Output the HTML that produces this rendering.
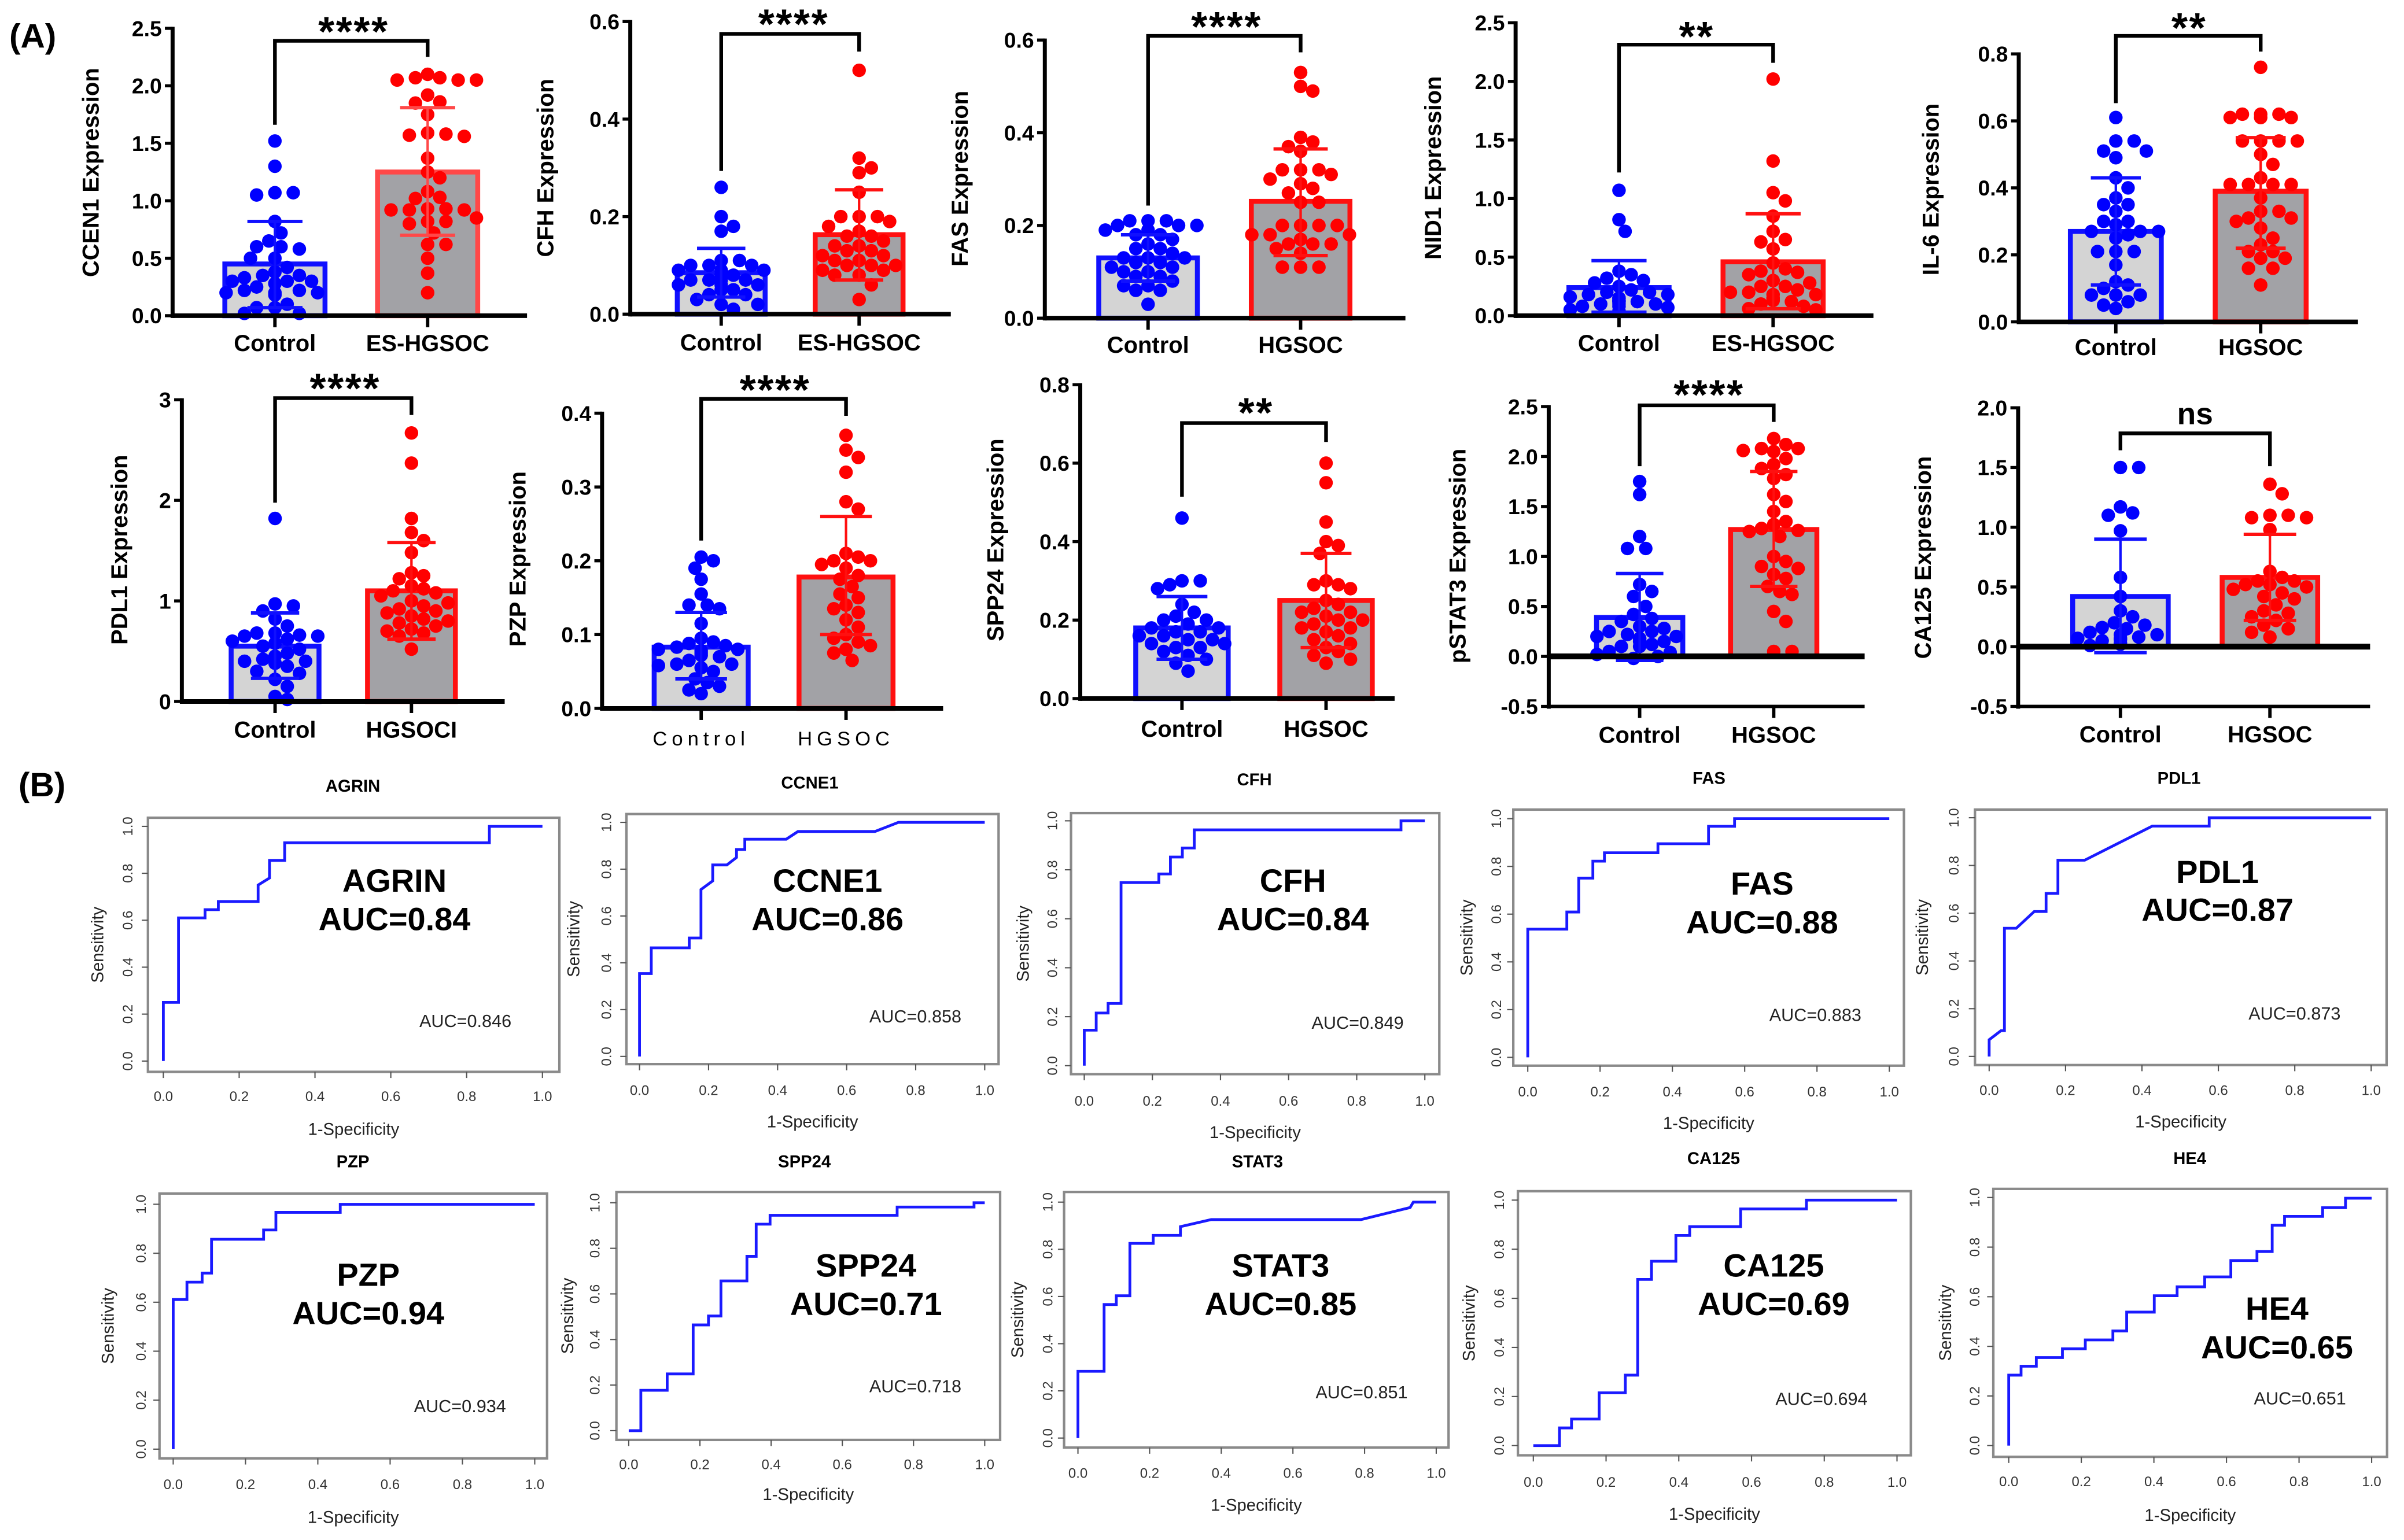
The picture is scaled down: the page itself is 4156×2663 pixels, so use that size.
<!DOCTYPE html>
<html><head><meta charset="utf-8"><style>
html,body{margin:0;padding:0;background:#fff;}
svg{display:block;}
text{font-family:"Liberation Sans",Arial,sans-serif;}
</style></head><body>
<svg id="fig" xmlns="http://www.w3.org/2000/svg" width="4156" height="2663" viewBox="0 0 1560 1000" preserveAspectRatio="none">
<text x="6" y="31" font-size="22" font-weight="bold">(A)</text>
<text x="12" y="517" font-size="22" font-weight="bold">(B)</text>
</svg>
<script>
// ---------- Panel A data ----------
const ccen1Ctl=[1.52,1.3,1.07,1.07,1.05,0.82,0.72,0.65,0.6,0.6,0.58,0.5,0.5,0.42,0.38,0.35,0.35,0.33,0.3,0.3,0.28,0.28,0.22,0.22,0.2,0.2,0.2,0.18,0.1,0.07,0.07,0.02,0.02,0.25,0.3];
const ccen1Case=[2.1,2.07,2.05,2.05,2.05,2.07,1.92,1.85,1.86,1.75,1.59,1.57,1.56,1.58,1.37,1.25,1.2,1.08,1.03,1.02,0.92,0.92,0.92,0.93,0.93,0.85,0.82,0.82,0.8,0.72,0.62,0.62,0.5,0.37,0.2];
const ccen1Means=[0.45,1.25];
const ccen1Err=[[0.07,0.82],[0.7,1.81]];
const ccen1Ticks=['0.0','0.5','1.0','1.5','2.0','2.5'];
const cfhCtl=[0.26,0.2,0.18,0.17,0.11,0.11,0.1,0.1,0.1,0.09,0.09,0.09,0.08,0.08,0.08,0.08,0.07,0.07,0.07,0.07,0.06,0.06,0.06,0.05,0.05,0.04,0.04,0.03,0.02,0.01,0.02];
const cfhCase=[0.5,0.32,0.3,0.29,0.25,0.2,0.2,0.2,0.19,0.18,0.17,0.16,0.16,0.15,0.14,0.14,0.13,0.13,0.12,0.12,0.11,0.11,0.1,0.1,0.1,0.09,0.09,0.08,0.08,0.06,0.03];
const cfhMeans=[0.085,0.163];
const cfhErr=[[0.035,0.135],[0.07,0.255]];
const cfhTicks=['0.0','0.2','0.4','0.6'];
const fasCtl=[0.21,0.21,0.21,0.2,0.2,0.2,0.19,0.19,0.18,0.18,0.17,0.16,0.15,0.15,0.14,0.13,0.13,0.13,0.12,0.12,0.11,0.11,0.1,0.1,0.09,0.09,0.08,0.07,0.07,0.06,0.06,0.03];
const fasCase=[0.53,0.5,0.49,0.39,0.38,0.37,0.36,0.32,0.32,0.32,0.31,0.3,0.29,0.28,0.27,0.25,0.25,0.2,0.2,0.2,0.2,0.18,0.18,0.18,0.17,0.16,0.16,0.16,0.15,0.14,0.11,0.11,0.11];
const fasMeans=[0.13,0.252];
const fasErr=[[0.08,0.18],[0.135,0.365]];
const fasTicks=['0.0','0.2','0.4','0.6'];
const nid1Ctl=[1.07,0.82,0.72,0.38,0.35,0.32,0.3,0.28,0.25,0.22,0.2,0.2,0.18,0.18,0.16,0.15,0.15,0.13,0.13,0.12,0.12,0.1,0.1,0.1,0.08,0.08,0.07,0.05,0.04,0.12,0.15];
const nid1Case=[2.02,1.32,1.05,0.98,0.85,0.72,0.65,0.63,0.57,0.45,0.4,0.38,0.37,0.35,0.3,0.28,0.25,0.25,0.22,0.2,0.2,0.18,0.18,0.15,0.15,0.13,0.12,0.1,0.08,0.06,0.05];
const nid1Means=[0.24,0.46];
const nid1Err=[[0.03,0.47],[0.06,0.87]];
const nid1Ticks=['0.0','0.5','1.0','1.5','2.0','2.5'];
const il6Ctl=[0.61,0.54,0.54,0.51,0.51,0.49,0.43,0.4,0.37,0.35,0.35,0.33,0.3,0.3,0.29,0.27,0.27,0.27,0.26,0.25,0.21,0.21,0.21,0.17,0.12,0.11,0.1,0.08,0.08,0.08,0.06,0.05,0.04];
const il6Case=[0.76,0.62,0.62,0.61,0.61,0.61,0.62,0.54,0.54,0.54,0.54,0.5,0.47,0.43,0.41,0.41,0.41,0.41,0.37,0.33,0.33,0.31,0.31,0.3,0.28,0.25,0.23,0.21,0.21,0.19,0.19,0.16,0.16,0.11];
const il6Means=[0.27,0.39];
const il6Err=[[0.11,0.43],[0.22,0.55]];
const il6Ticks=['0.0','0.2','0.4','0.6','0.8'];
const pdl1Ctl=[1.82,0.97,0.95,0.9,0.82,0.75,0.68,0.68,0.66,0.65,0.65,0.62,0.6,0.58,0.55,0.52,0.48,0.45,0.42,0.4,0.4,0.38,0.35,0.3,0.28,0.22,0.15,0.05,0.02];
const pdl1Case=[2.67,2.37,1.82,1.68,1.6,1.48,1.28,1.25,1.22,1.15,1.12,1.1,1.08,1.05,1.0,0.98,0.95,0.92,0.88,0.85,0.82,0.8,0.78,0.75,0.7,0.68,0.65,0.52,0.72,0.9];
const pdl1Means=[0.55,1.1];
const pdl1Err=[[0.23,0.88],[0.62,1.58]];
const pdl1Ticks=['0','1','2','3'];
const pzpCtl=[0.205,0.2,0.19,0.175,0.155,0.14,0.14,0.135,0.115,0.095,0.09,0.088,0.085,0.083,0.08,0.08,0.078,0.075,0.072,0.07,0.065,0.06,0.06,0.058,0.055,0.05,0.04,0.035,0.03,0.025,0.02];
const pzpCase=[0.37,0.35,0.34,0.32,0.28,0.27,0.21,0.205,0.2,0.2,0.195,0.19,0.18,0.175,0.165,0.155,0.15,0.14,0.135,0.13,0.12,0.11,0.1,0.095,0.09,0.085,0.08,0.075,0.065];
const pzpMeans=[0.083,0.178];
const pzpErr=[[0.04,0.13],[0.1,0.26]];
const pzpTicks=['0.0','0.1','0.2','0.3','0.4'];
const spp24Ctl=[0.46,0.3,0.3,0.29,0.28,0.24,0.22,0.21,0.2,0.2,0.19,0.18,0.17,0.16,0.16,0.15,0.15,0.14,0.14,0.13,0.13,0.12,0.11,0.1,0.09,0.07,0.18,0.17];
const spp24Case=[0.6,0.55,0.45,0.4,0.39,0.37,0.3,0.29,0.29,0.28,0.25,0.24,0.23,0.22,0.22,0.21,0.2,0.2,0.19,0.18,0.18,0.17,0.16,0.15,0.14,0.13,0.12,0.11,0.1,0.09];
const spp24Means=[0.18,0.25];
const spp24Err=[[0.1,0.26],[0.13,0.37]];
const spp24Ticks=['0.0','0.2','0.4','0.6','0.8'];
const stat3Ctl=[1.75,1.62,1.2,1.08,1.08,0.72,0.65,0.6,0.5,0.42,0.38,0.35,0.3,0.28,0.25,0.22,0.2,0.2,0.18,0.18,0.15,0.15,0.12,0.1,0.1,0.05,0.04,0.02,0.0,-0.02,0.25];
const stat3Case=[2.18,2.12,2.08,2.08,2.06,2.05,1.98,1.92,1.88,1.82,1.78,1.62,1.55,1.45,1.35,1.32,1.28,1.26,1.25,1.2,1.0,0.95,0.9,0.88,0.82,0.78,0.7,0.65,0.62,0.45,0.35,0.05,0.05];
const stat3Means=[0.39,1.27];
const stat3Err=[[-0.04,0.83],[0.7,1.85]];
const stat3Ticks=['-0.5','0.0','0.5','1.0','1.5','2.0','2.5'];
const ca125Ctl=[1.5,1.5,1.17,1.12,1.1,0.97,0.58,0.42,0.3,0.25,0.2,0.18,0.15,0.12,0.1,0.1,0.08,0.07,0.07,0.06,0.05,0.03,0.02,0.01,0.16];
const ca125Case=[1.36,1.28,1.1,1.1,1.08,1.08,0.98,0.63,0.58,0.55,0.55,0.52,0.52,0.5,0.48,0.45,0.42,0.4,0.35,0.3,0.28,0.25,0.22,0.18,0.15,0.12,0.08];
const ca125Means=[0.42,0.58];
const ca125Err=[[-0.05,0.9],[0.22,0.94]];
const ca125Ticks=['-0.5','0.0','0.5','1.0','1.5','2.0'];

// ---------- Panel B data (ROC) ----------
const agrinFpr=[0,0,0.04,0.04,0.11,0.11,0.145,0.145,0.25,0.25,0.28,0.28,0.32,0.32,0.86,0.86,1];
const agrinTpr=[0,0.25,0.25,0.61,0.61,0.645,0.645,0.68,0.68,0.75,0.78,0.855,0.855,0.93,0.93,1,1];
const ccne1Fpr=[0,0,0.034,0.034,0.144,0.144,0.178,0.178,0.212,0.212,0.253,0.281,0.281,0.305,0.305,0.425,0.459,0.682,0.75,1];
const ccne1Tpr=[0,0.354,0.354,0.464,0.464,0.506,0.506,0.713,0.75,0.818,0.818,0.85,0.884,0.884,0.928,0.928,0.961,0.961,1,1];
const cfhFpr=[0,0,0.035,0.035,0.07,0.07,0.108,0.108,0.219,0.219,0.253,0.253,0.288,0.288,0.323,0.323,0.93,0.93,1];
const cfhTpr=[0,0.145,0.145,0.215,0.215,0.254,0.254,0.748,0.748,0.783,0.783,0.852,0.852,0.889,0.889,0.963,0.963,1,1];
const fasFpr=[0,0,0.108,0.108,0.141,0.141,0.18,0.18,0.212,0.212,0.36,0.36,0.5,0.5,0.572,0.572,1];
const fasTpr=[0,0.537,0.537,0.609,0.609,0.751,0.751,0.822,0.822,0.857,0.857,0.895,0.895,0.968,0.968,1,1];
const pdl1Fpr=[0,0,0.031,0.04,0.04,0.071,0.118,0.149,0.149,0.18,0.18,0.25,0.427,0.576,0.576,1];
const pdl1Tpr=[0,0.07,0.108,0.108,0.537,0.537,0.607,0.607,0.683,0.683,0.822,0.822,0.965,0.965,1,1];
const pzpFpr=[0,0,0.038,0.038,0.08,0.08,0.106,0.106,0.25,0.25,0.284,0.284,0.462,0.462,1];
const pzpTpr=[0,0.611,0.611,0.682,0.682,0.719,0.719,0.857,0.857,0.895,0.895,0.967,0.967,1,1];
const spp24Fpr=[0,0.034,0.034,0.108,0.108,0.181,0.181,0.224,0.224,0.259,0.259,0.332,0.332,0.358,0.358,0.397,0.397,0.754,0.754,0.97,0.97,1];
const spp24Tpr=[0,0,0.177,0.177,0.249,0.249,0.464,0.464,0.503,0.503,0.657,0.657,0.765,0.765,0.906,0.906,0.945,0.945,0.981,0.981,1,1];
const stat3Fpr=[0,0,0.073,0.073,0.107,0.107,0.145,0.145,0.21,0.21,0.286,0.286,0.372,0.79,0.927,0.936,1];
const stat3Tpr=[0,0.283,0.283,0.566,0.566,0.603,0.603,0.825,0.825,0.859,0.859,0.896,0.926,0.926,0.977,1,1];
const ca125Fpr=[0,0.072,0.072,0.105,0.105,0.181,0.181,0.253,0.253,0.287,0.287,0.325,0.325,0.392,0.392,0.43,0.43,0.57,0.57,0.751,0.751,1];
const ca125Tpr=[0,0,0.072,0.072,0.108,0.108,0.215,0.215,0.287,0.287,0.677,0.677,0.751,0.751,0.856,0.856,0.892,0.892,0.964,0.964,1,1];
const he4Fpr=[0,0,0.034,0.034,0.076,0.076,0.148,0.148,0.211,0.211,0.287,0.287,0.325,0.325,0.401,0.401,0.464,0.464,0.54,0.54,0.612,0.612,0.684,0.684,0.726,0.726,0.76,0.76,0.865,0.865,0.928,0.928,1];
const he4Tpr=[0,0.284,0.284,0.32,0.32,0.355,0.355,0.39,0.39,0.426,0.426,0.462,0.462,0.538,0.538,0.604,0.604,0.64,0.64,0.68,0.68,0.746,0.746,0.782,0.782,0.888,0.888,0.924,0.924,0.959,0.959,0.997,0.997];
const rocTicks=['0.0','0.2','0.4','0.6','0.8','1.0'];

const NS='http://www.w3.org/2000/svg';
const svg=document.getElementById('fig');
function mk(tag,attrs,parent){const e=document.createElementNS(NS,tag);for(const k in attrs)e.setAttribute(k,attrs[k]);parent.appendChild(e);return e;}
function txt(str,attrs,parent){const t=mk('text',attrs,parent);t.textContent=str;return t;}

function beeswarm(vals,Y,cx,r,maxOff){
  const order=vals.map((v,i)=>i).sort((a,b)=>vals[b]-vals[a]);
  const placed=[];const xs=new Array(vals.length);
  for(const i of order){
    const y=Y(vals[i]);let best=cx;
    for(let k=0;k<40;k++){
      const off=(k%2===1?1:-1)*Math.ceil(k/2)*r*0.9;
      const x=cx+off;
      if(Math.abs(off)>maxOff)continue;
      let ok=true;
      for(const p of placed){if(Math.hypot(p[0]-x,p[1]-y)<2*r*0.92){ok=false;break;}}
      if(ok){best=x;break;}
    }
    placed.push([best,y]);xs[i]=best;
  }
  return xs;
}

function drawBar(p,ctl,cas,means,errs,ticks){
  const g=mk('g',{},svg);
  
  
  const Y=v=>p.py0+(v-p.ymin)/(p.ymax-p.ymin)*(p.py1-p.py0);
  const r=4.4;
  const fills=['#d4d4d4','#a2a2a6'];
  const strokes=['#1010ff',p.redEdge||'#ff1010'];
  const dotc=['#0000ff','#ff0000'];
  const groups=[ctl,cas];
  for(let i=0;i<2;i++){
    const cx=p.cx[i];
    const top=Y(means[i]),base=Y(0);
    const b=mk('rect',{x:cx-p.hw,y:top,width:2*p.hw,height:base-top,fill:fills[i],stroke:strokes[i],'stroke-width':3.2},g);
    
    
    const xs=beeswarm(groups[i],Y,cx,r,p.hw);
    groups[i].forEach((v,j)=>{
      const c=mk('circle',{cx:xs[j],cy:Y(v),r:r,fill:dotc[i]},g);
      
      
    });
    const e=errs[i];const ew=p.hw*0.55;
    const eg=mk('g',{stroke:strokes[i],'stroke-width':1.6},g);
    
    
    mk('line',{x1:cx,x2:cx,y1:Y(e[0]),y2:Y(e[1])},eg);
    mk('line',{x1:cx-ew,x2:cx+ew,y1:Y(e[0]),y2:Y(e[0]),'stroke-width':2.2},eg);
    mk('line',{x1:cx-ew,x2:cx+ew,y1:Y(e[1]),y2:Y(e[1]),'stroke-width':2.2},eg);
  }
  // axes
  const ya=mk('line',{x1:p.ax,x2:p.ax,y1:p.py1-1,y2:p.py0+1.5,stroke:'#000','stroke-width':2.6},g);
  
  
  const xa=mk('line',{x1:p.ax,x2:p.xend,y1:p.py0,y2:p.py0,stroke:'#000','stroke-width':p.zero?2.2:3},g);
  
  
  if(p.zero){
    const z=mk('line',{x1:p.ax,x2:p.xend,y1:Y(0),y2:Y(0),stroke:'#000','stroke-width':3.8},g);
    
    
  }
  ticks.forEach(t=>{
    const v=parseFloat(t);const y=Y(v);
    mk('line',{x1:p.ax-5,x2:p.ax,y1:y,y2:y,stroke:'#000','stroke-width':2},g);
    const tl=txt(t,{x:p.ax-7,y:y+5,'font-size':14,'font-weight':'bold','text-anchor':'end'},g);
    
    
  });
  for(let i=0;i<2;i++){
    mk('line',{x1:p.cx[i],x2:p.cx[i],y1:p.py0,y2:p.py0+7.5,stroke:'#000','stroke-width':2.2},g);
    const la=txt(p.labels[i],{x:p.cx[i],y:p.laby+5,'font-size':p.spaced?13:15,'font-weight':p.spaced?'normal':'bold','text-anchor':'middle','letter-spacing':p.spaced?3:0},g);
    
    
  }
  // bracket
  const br=mk('polyline',{points:`${p.cx[0]},${p.brl} ${p.cx[0]},${p.bry} ${p.cx[1]},${p.bry} ${p.cx[1]},${p.brr}`,fill:'none',stroke:'#000','stroke-width':2.4},g);
  
  
  const isNs=p.sig==='ns';
  const st=txt(p.sig,{x:p.sx,y:isNs?p.sy+7:p.sy+15,'font-size':isNs?20:27,'font-weight':'bold','text-anchor':'middle','letter-spacing':isNs?0:1},g);
  
  
  const ti=txt(p.title,{x:0,y:0,'font-size':15,'font-weight':'bold','text-anchor':'middle',transform:`translate(${p.tx+5},${p.ty}) rotate(-90)`},g);
  
  
}

drawBar({name:'ccen1',ax:112,py0:205,py1:18.4,ymin:0,ymax:2.5,cx:[178.4,277.5],hw:32.5,xend:342,bry:26.5,brl:81,brr:37,sig:'****',sx:229.5,sy:14.8,laby:223,labels:['Control','ES-HGSOC'],title:'CCEN1 Expression',tx:59,ty:112,redEdge:'#ff4848'},ccen1Ctl,ccen1Case,ccen1Means,ccen1Err,ccen1Ticks);
drawBar({name:'cfh',ax:409,py0:204,py1:14,ymin:0,ymax:0.6,cx:[468,557.5],hw:28.5,xend:617,bry:22,brl:111,brr:33.5,sig:'****',sx:515,sy:10,laby:222.5,labels:['Control','ES-HGSOC'],title:'CFH Expression',tx:354,ty:109},cfhCtl,cfhCase,cfhMeans,cfhErr,cfhTicks);
drawBar({name:'fas',ax:678,py0:206.6,py1:26,ymin:0,ymax:0.6,cx:[745,844],hw:32,xend:912,bry:23.3,brl:133.5,brr:34,sig:'****',sx:796,sy:11.7,laby:224,labels:['Control','HGSOC'],title:'FAS Expression',tx:623,ty:116},fasCtl,fasCase,fasMeans,fasErr,fasTicks);
drawBar({name:'nid1',ax:983.5,py0:205,py1:14.8,ymin:0,ymax:2.5,cx:[1050.6,1150.6],hw:32.5,xend:1215.7,bry:29,brl:112,brr:40.8,sig:'**',sx:1101,sy:18,laby:223,labels:['Control','ES-HGSOC'],title:'NID1 Expression',tx:930,ty:109},nid1Ctl,nid1Case,nid1Means,nid1Err,nid1Ticks);
drawBar({name:'il6',ax:1310,py0:209,py1:35,ymin:0,ymax:0.8,cx:[1373,1467],hw:29.5,xend:1530,bry:23.3,brl:67,brr:33.5,sig:'**',sx:1420.6,sy:12.5,laby:225.6,labels:['Control','HGSOC'],title:'IL-6 Expression',tx:1253,ty:123},il6Ctl,il6Case,il6Means,il6Err,il6Ticks);
drawBar({name:'pdl1',ax:118,py0:455.5,py1:259.6,ymin:0,ymax:3,cx:[178.5,267],hw:28.5,xend:327.5,bry:258.5,brl:326.4,brr:269.5,sig:'****',sx:224,sy:246.6,laby:474,labels:['Control','HGSOCI'],title:'PDL1 Expression',tx:77.6,ty:357},pdl1Ctl,pdl1Case,pdl1Means,pdl1Err,pdl1Ticks);
drawBar({name:'pzp',ax:390.7,py0:460,py1:268.3,ymin:0,ymax:0.4,cx:[455,549],hw:30.5,xend:612,bry:259,brl:351,brr:270,sig:'****',sx:503,sy:247.5,laby:479,labels:['Control','HGSOC'],spaced:true,title:'PZP Expression',tx:336,ty:363},pzpCtl,pzpCase,pzpMeans,pzpErr,pzpTicks);
drawBar({name:'spp24',ax:701,py0:453.6,py1:249.8,ymin:0,ymax:0.8,cx:[767,860.5],hw:30,xend:905,bry:274.7,brl:322.5,brr:287,sig:'**',sx:815,sy:262.4,laby:473.4,labels:['Control','HGSOC'],title:'SPP24 Expression',tx:646,ty:350.6},spp24Ctl,spp24Case,spp24Means,spp24Err,spp24Ticks);
drawBar({name:'pstat3',ax:1005,py0:458.7,py1:264,ymin:-0.5,ymax:2.5,zero:true,cx:[1064,1151],hw:28,xend:1210,bry:263.2,brl:302.7,brr:274,sig:'****',sx:1109,sy:250.6,laby:477.3,labels:['Control','HGSOC'],title:'pSTAT3 Expression',tx:946,ty:361},stat3Ctl,stat3Case,stat3Means,stat3Err,stat3Ticks);
drawBar({name:'ca125',ax:1309.6,py0:458.7,py1:264.8,ymin:-0.5,ymax:2,zero:true,cx:[1376,1473],hw:31,xend:1538,bry:281.4,brl:292.4,brr:302.7,sig:'ns',sx:1424.4,sy:268.4,laby:477,labels:['Control','HGSOC'],title:'CA125 Expression',tx:1248,ty:362},ca125Ctl,ca125Case,ca125Means,ca125Err,ca125Ticks);

function drawRoc(p,fpr,tpr,ticks){
  const g=mk('g',{},svg);
  
  
  const X=v=>p.x0+v*(p.x1-p.x0);
  const Y=v=>p.yb+v*(p.yt-p.yb);
  const [l,t,r,b]=p.box;
  const bx=mk('rect',{x:l,y:t,width:r-l,height:b-t,fill:'none',stroke:'#8a8a8a','stroke-width':1.6},g);
  
  
  const pts=fpr.map((v,i)=>X(v).toFixed(2)+','+Y(tpr[i]).toFixed(2)).join(' ');
  const ln=mk('polyline',{points:pts,fill:'none',stroke:'#1a1aff','stroke-width':1.8},g);
  
  
  ticks.forEach(tk=>{
    const v=parseFloat(tk);
    mk('line',{x1:X(v),x2:X(v),y1:b,y2:b+4,stroke:'#555','stroke-width':0.8},g);
    const xl=txt(tk,{x:X(v),y:p.tly+3,'font-size':9,'text-anchor':'middle',fill:'#333'},g);
    
    
    mk('line',{x1:l-4,x2:l,y1:Y(v),y2:Y(v),stroke:'#555','stroke-width':0.8},g);
    const yl=txt(tk,{x:0,y:0,'font-size':9,'text-anchor':'middle',fill:'#333',transform:`translate(${p.ylx+3},${Y(v)}) rotate(-90)`},g);
    
    
  });
  const tt=txt(p.title,{x:p.tx,y:p.ty+4,'font-size':11,'font-weight':'bold','text-anchor':'middle'},g);
  
  
  const b1=txt(p.title,{x:p.bc,y:p.b1,'font-size':21,'font-weight':'bold','text-anchor':'middle'},g);
  
  
  const b2=txt(p.auc,{x:p.bc,y:p.b2,'font-size':21,'font-weight':'bold','text-anchor':'middle'},g);
  
  
  const sm=txt(p.small,{x:p.smx,y:p.smy+4,'font-size':11.5,'text-anchor':'middle',fill:'#222'},g);
  
  
  const xt=txt('1-Specificity',{x:(l+r)/2,y:p.xly+4,'font-size':11,'text-anchor':'middle',fill:'#222'},g);
  
  
  const yt=txt('Sensitivity',{x:0,y:0,'font-size':11,'text-anchor':'middle',fill:'#222',transform:`translate(${p.sx+4},${(t+b)/2}) rotate(-90)`},g);
  
  
}

drawRoc({name:'agrin',title:'AGRIN',auc:'AUC=0.84',small:'AUC=0.846',box:[96,531,363,696],x0:106,x1:352,yb:689,yt:536.6,tx:229,ty:510,bc:256,b1:579,b2:604,smx:302,smy:663,tly:712,xly:733,ylx:83,sx:63},agrinFpr,agrinTpr,rocTicks);
drawRoc({name:'ccne1',title:'CCNE1',auc:'AUC=0.86',small:'AUC=0.858',box:[406.5,528.6,648,691],x0:415,x1:639,yb:686,yt:534,tx:525.5,ty:508,bc:537,b1:579,b2:604,smx:594,smy:660,tly:708,xly:728,ylx:393.5,sx:372},ccne1Fpr,ccne1Tpr,rocTicks);
drawRoc({name:'cfh',title:'CFH',auc:'AUC=0.84',small:'AUC=0.849',box:[695,528,934,697.5],x0:703.6,x1:924.6,yb:692,yt:533,tx:814,ty:506,bc:839,b1:579,b2:604,smx:881,smy:664,tly:715,xly:735,ylx:683,sx:663.6},cfhFpr,cfhTpr,rocTicks);
drawRoc({name:'fas',title:'FAS',auc:'AUC=0.88',small:'AUC=0.883',box:[982,525.7,1235.5,692],x0:991.4,x1:1226,yb:686.6,yt:531.6,tx:1109,ty:505,bc:1143.5,b1:581,b2:606,smx:1178,smy:659,tly:709,xly:729,ylx:971,sx:951.5},fasFpr,fasTpr,rocTicks);
drawRoc({name:'pdl1',title:'PDL1',auc:'AUC=0.87',small:'AUC=0.873',box:[1281.6,525.7,1548.7,691.6],x0:1290.8,x1:1538.7,yb:686,yt:531,tx:1414,ty:505,bc:1439,b1:573.5,b2:598,smx:1489,smy:658,tly:708,xly:728,ylx:1268,sx:1247},pdl1Fpr,pdl1Tpr,rocTicks);
drawRoc({name:'pzp',title:'PZP',auc:'AUC=0.94',small:'AUC=0.934',box:[103.5,775,355,947],x0:112.4,x1:347,yb:941,yt:782,tx:229,ty:754,bc:239,b1:835,b2:860,smx:298.5,smy:913,tly:964,xly:985,ylx:91.5,sx:69.7},pzpFpr,pzpTpr,rocTicks);
drawRoc({name:'spp24',title:'SPP24',auc:'AUC=0.71',small:'AUC=0.718',box:[400,774,649,935],x0:408,x1:639,yb:929,yt:781,tx:522,ty:754,bc:562,b1:829,b2:854,smx:594,smy:900,tly:951,xly:970,ylx:386,sx:368},spp24Fpr,spp24Tpr,rocTicks);
drawRoc({name:'stat3',title:'STAT3',auc:'AUC=0.85',small:'AUC=0.851',box:[690.5,774,940,940],x0:699.5,x1:932,yb:933.8,yt:780.6,tx:816,ty:754,bc:831,b1:829,b2:854,smx:883.6,smy:904,tly:956.7,xly:977,ylx:680,sx:660},stat3Fpr,stat3Tpr,rocTicks);
drawRoc({name:'ca125',title:'CA125',auc:'AUC=0.69',small:'AUC=0.694',box:[985,773.5,1240,945],x0:995,x1:1231,yb:938.7,yt:779.3,tx:1112,ty:752,bc:1151,b1:829,b2:854,smx:1182,smy:908.4,tly:962.4,xly:982.8,ylx:973,sx:953},ca125Fpr,ca125Tpr,rocTicks);
drawRoc({name:'he4',title:'HE4',auc:'AUC=0.65',small:'AUC=0.651',box:[1293.5,772,1549,946],x0:1303.5,x1:1539,yb:938.7,yt:777.6,tx:1421,ty:752,bc:1477.6,b1:857,b2:882,smx:1492.5,smy:908,tly:962,xly:983.6,ylx:1281.5,sx:1262},he4Fpr,he4Tpr,rocTicks);
</script>
</body></html>
